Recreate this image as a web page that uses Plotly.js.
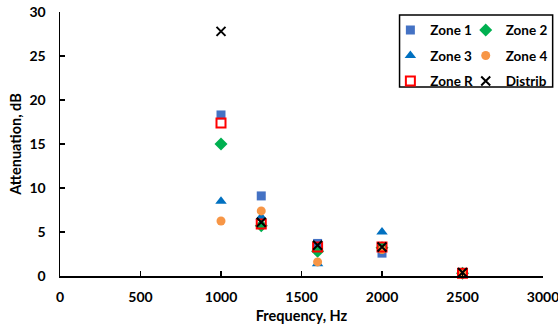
<!DOCTYPE html>
<html>
<head>
<meta charset="utf-8">
<script src="https://cdn.plot.ly/plotly-3.0.1.min.js"></script>
<style>html,body{margin:0;padding:0;background:#fff;}#chart{width:558px;height:328px;}</style>
</head>
<body>
<div id="chart"></div>
<script>
var frequencies = [1000, 1250, 1600, 2000, 2500];
var zone1 = [18.3, 9.1, 3.7, 2.6, 0.4];
var zone2 = [15.0, 5.7, 2.8, 3.2, 0.3];
var zone3 = [8.5, 6.7, 1.4, 5.0, 0.2];
var zone4 = [6.25, 7.4, 1.6, 3.0, 0.3];
var zoneR = [17.4, 5.9, 3.3, 3.3, 0.3];
var distrib = [27.8, 6.1, 3.5, 3.3, 0.4];
var xTicks = [0, 500, 1000, 1500, 2000, 2500, 3000];
var yTicks = [0, 5, 10, 15, 20, 25, 30];

var FONT = 'Lato, "Liberation Sans", sans-serif';
function tr(name, y, marker, legend, group) {
  return {x: frequencies, y: y, name: name, type: 'scatter', mode: 'markers',
    marker: marker, legend: legend, legendgroup: group, showlegend: true, cliponaxis: false};
}
var traces = [
  tr('Zone 1', zone1, {symbol: 'square', size: 9, color: '#4472C4'}, 'legend', 'a'),
  tr('Zone 2', zone2, {symbol: 'diamond', size: 10, color: '#00B050'}, 'legend2', 'b'),
  tr('Zone 3', zone3, {symbol: 'triangle-up', size: 10, color: '#0070C0'}, 'legend', 'c'),
  tr('Zone 4', zone4, {symbol: 'circle', size: 9, color: '#F79646'}, 'legend2', 'd'),
  tr('Zone R', zoneR, {symbol: 'square-open', size: 9, color: '#FF0000', line: {width: 2, color: '#FF0000'}}, 'legend', 'e'),
  tr('Distrib', distrib, {symbol: 'x-thin', size: 9, color: '#000000', line: {width: 2, color: '#000000'}}, 'legend2', 'f')
];

var LFONT = {family: FONT, size: 13.5, color: '#000', weight: 'bold'};
var BFONT = {family: FONT, size: 14.5, color: '#000', weight: 'bold'};
var TFONT = {family: FONT, size: 14, color: '#000', weight: 'bold'};
var legendCommon = {
  yanchor: 'top', xanchor: 'left', y: 0.99, bgcolor: 'rgba(0,0,0,0)', borderwidth: 0,
  font: LFONT, tracegroupgap: 5, itemwidth: 30, maxheight: 300
};
var layout = {
  width: 558, height: 328,
  margin: {l: 60, r: 15, t: 12, b: 52, autoexpand: false},
  paper_bgcolor: '#fff', plot_bgcolor: '#fff',
  font: BFONT,
  xaxis: {
    range: [0, 3000], tickvals: xTicks, ticktext: xTicks.map(String), automargin: false,
    ticklabeloverflow: 'allow',
    showgrid: false, zeroline: false, showline: true, linecolor: '#000', linewidth: 1.5,
    ticks: 'inside', ticklen: 5, tickwidth: 1.5, tickcolor: '#000', ticklabelstandoff: 8,
    tickfont: TFONT,
    title: {text: 'Frequency, Hz', font: BFONT, standoff: 6}
  },
  yaxis: {
    range: [0, 30], tickvals: yTicks, ticktext: yTicks.map(String), automargin: false,
    ticklabeloverflow: 'allow',
    showgrid: false, zeroline: false, showline: true, linecolor: '#000', linewidth: 1.5,
    ticks: 'inside', ticklen: 5, tickwidth: 1.5, tickcolor: '#000', ticklabelstandoff: 10,
    tickfont: TFONT,
    title: {text: 'Attenuation, dB', font: BFONT, standoff: 4}
  },
  legend: Object.assign({}, legendCommon, {x: 0.684}),
  legend2: Object.assign({}, legendCommon, {x: 0.84}),
  shapes: [{type: 'rect', xref: 'paper', yref: 'paper', x0: 0.703, x1: 1.02, y0: 0.716, y1: 0.989,
    line: {color: '#000', width: 1.5}, fillcolor: 'rgba(0,0,0,0)'}],
  showlegend: true
};
Plotly.newPlot('chart', traces, layout, {displayModeBar: false, staticPlot: true});
</script>
</body>
</html>
